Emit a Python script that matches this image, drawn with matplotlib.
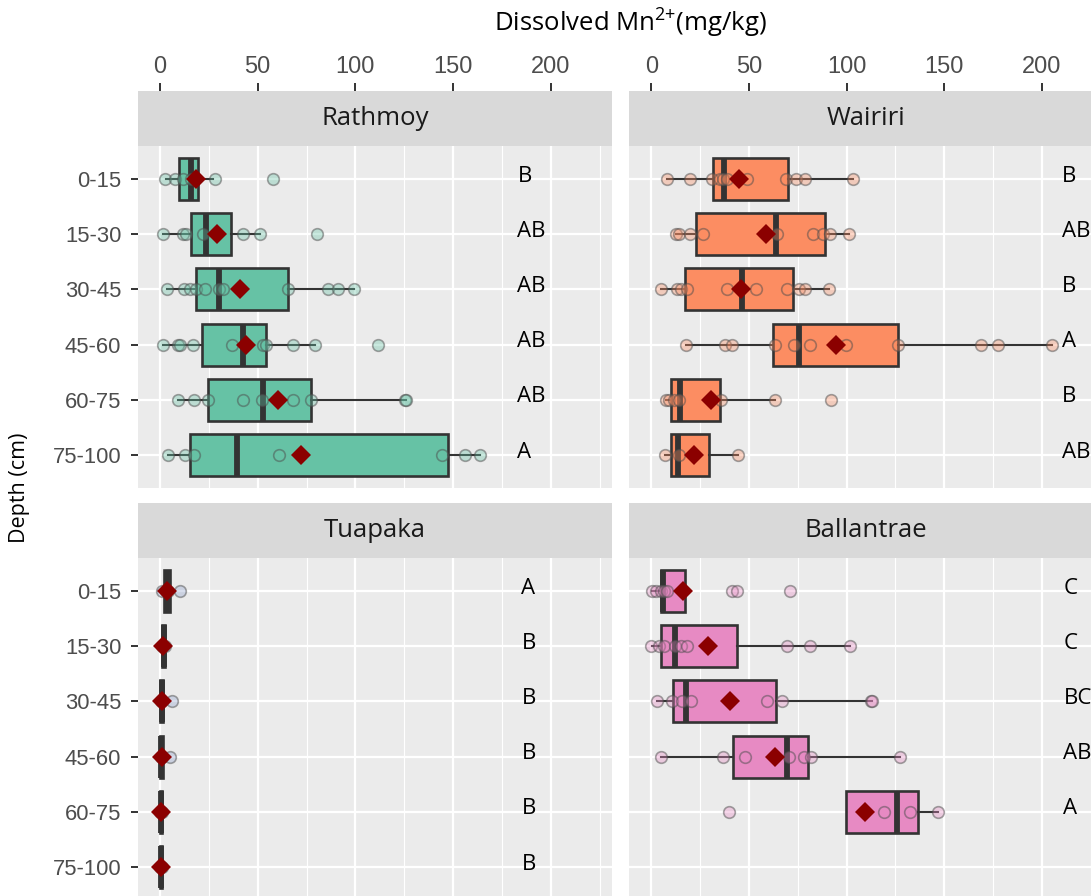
import matplotlib
matplotlib.use("Agg")
import matplotlib.pyplot as plt
from matplotlib.colors import to_rgba

plt.rcParams["mathtext.fontset"] = "custom"
plt.rcParams["mathtext.rm"] = "Open Sans"
plt.rcParams["mathtext.it"] = "Open Sans"

LABEL_FONT = ["Open Sans", "DejaVu Sans"]
TICK_FONT = ["Liberation Sans", "DejaVu Sans"]

depths = ["0-15", "15-30", "30-45", "45-60", "60-75", "75-100"]
sites = ["Rathmoy", "Wairiri", "Tuapaka", "Ballantrae"]
site_colors = ["#66C2A5", "#FC8D62", "#8DA0CB", "#E78AC3"]

# Box summaries per depth: (lower whisker, Q1, median, Q3, upper whisker)
rathmoy_box = [(3.1, 9.9, 15.9, 19.6, 27.3),
               (1.7, 15.9, 23.7, 36.4, 51.2),
               (3.4, 18.3, 30.2, 65.7, 99.5),
               (1.7, 21.3, 42.7, 54.1, 79.4),
               (9.4, 24.7, 52.9, 77.1, 126.0),
               (4.3, 15.4, 39.6, 147.6, 163.9)]
wairiri_box = [(7.8, 31.5, 37.1, 69.8, 103.1),
               (12.4, 23.0, 63.9, 89.1, 101.0),
               (4.8, 17.0, 46.5, 72.6, 91.2),
               (17.9, 62.4, 75.8, 126.3, 205.3),
               (7.3, 10.2, 14.5, 35.1, 63.5),
               (6.8, 10.2, 13.8, 29.4, 44.3)]
tuapaka_box = [(1.0, 2.2, 3.7, 5.3, 5.8),
               (0.5, 0.9, 1.8, 2.7, 3.0),
               (0.1, 0.2, 0.8, 1.5, 1.7),
               (0.1, 0.1, 0.6, 1.3, 1.5),
               (0.0, 0.0, 0.4, 1.0, 1.2),
               (0.0, 0.0, 0.4, 1.0, 1.2)]
ballantrae_box = [(0.5, 4.8, 6.0, 17.0, 17.0),
                  (0.3, 4.8, 11.9, 44.0, 101.5),
                  (2.7, 11.0, 17.5, 63.7, 113.0),
                  (4.8, 41.7, 69.5, 80.1, 127.1),
                  (99.7, 99.7, 125.8, 136.3, 147.0),
                  None]

# Mean of each depth group
rathmoy_mean = [18.3, 29.3, 41.0, 44.0, 60.6, 72.0]
wairiri_mean = [45.1, 58.9, 45.7, 94.7, 30.3, 21.8]
tuapaka_mean = [3.4, 1.7, 1.1, 0.75, 0.6, 0.6]
ballantrae_mean = [16.2, 29.1, 40.2, 63.5, 109.6, None]

# Individual samples per depth
rathmoy_points = [[2.6, 7.7, 11.9, 15.9, 28.2, 58.0],
                  [1.7, 11.6, 13.3, 21.8, 42.3, 51.2, 80.2],
                  [3.4, 12.3, 15.4, 18.3, 23.0, 30.1, 32.4, 65.7, 86.2, 91.3, 99.5],
                  [1.7, 9.2, 10.2, 17.1, 36.7, 52.9, 54.1, 68.3, 79.4, 111.8],
                  [9.4, 17.6, 24.7, 42.7, 52.1, 68.3, 77.1, 125.5, 126.0],
                  [4.3, 12.8, 17.4, 60.9, 144.6, 156.2, 163.9]]
wairiri_points = [[7.8, 19.6, 31.3, 35.1, 36.5, 38.9, 49.1, 69.0, 74.1, 78.5, 103.1],
                  [12.4, 14.1, 19.6, 26.6, 64.5, 82.8, 87.7, 91.7, 101.0],
                  [4.8, 13.3, 15.0, 18.0, 38.9, 53.8, 69.5, 75.5, 78.5, 91.2],
                  [17.9, 37.6, 41.1, 63.3, 72.9, 81.1, 99.8, 126.3, 168.7, 177.7, 205.3],
                  [7.3, 9.0, 11.5, 14.0, 35.4, 63.5, 92.0],
                  [6.8, 14.0, 44.3]]
tuapaka_points = [[1.0, 3.0, 4.0, 10.2],
                  [0.8, 1.5, 2.6],
                  [0.4, 1.0, 6.0],
                  [0.3, 0.8, 5.1],
                  [0.2, 0.6, 1.0],
                  [0.2, 0.6, 1.0]]
ballantrae_points = [[0.5, 2.2, 4.8, 6.3, 8.2, 41.4, 44.0, 71.2],
                     [0.0, 3.7, 6.3, 11.9, 15.0, 18.4, 69.2, 81.4, 101.5],
                     [2.7, 10.6, 15.7, 20.4, 59.3, 67.0, 112.5, 113.0],
                     [4.8, 36.6, 47.7, 70.3, 78.0, 81.8, 127.1],
                     [39.7, 118.9, 132.2, 147.0],
                     []]

rathmoy_letters = ["B", "AB", "AB", "AB", "AB", "A"]
wairiri_letters = ["B", "AB", "B", "A", "B", "AB"]
tuapaka_letters = ["A", "B", "B", "B", "B", "B"]
ballantrae_letters = ["C", "C", "BC", "AB", "A", ""]

site_boxes = [rathmoy_box, wairiri_box, tuapaka_box, ballantrae_box]
site_means = [rathmoy_mean, wairiri_mean, tuapaka_mean, ballantrae_mean]
site_points = [rathmoy_points, wairiri_points, tuapaka_points, ballantrae_points]
site_letters = [rathmoy_letters, wairiri_letters, tuapaka_letters, ballantrae_letters]
letter_x = [183, 210, 185, 211]

x_ticks = [0, 50, 100, 150, 200]
x_minor = [25, 75, 125, 175, 225]
x_range = (-11.3, 231.4)

W, H = 1091, 896
fig = plt.figure(figsize=(W / 100, H / 100), dpi=100)
fig.patch.set_facecolor("white")

panel_w = 474
col_left = [138, 629.3]
row_top = [146, 558]
strip_top = [91, 503]
panel_h = 342
strip_h = 55

DARK = "#333333"

for k, site in enumerate(sites):
    r, c = divmod(k, 2)
    x0 = col_left[c]
    ax = fig.add_axes([x0 / W, 1 - (row_top[r] + panel_h) / H, panel_w / W, panel_h / H])
    ax.set_facecolor("#EBEBEB")
    for s in ax.spines.values():
        s.set_visible(False)

    ax.set_xlim(*x_range)
    ax.set_ylim(len(depths) - 1 + 0.6, -0.6)
    ax.set_xticks(x_ticks)
    ax.set_xticks(x_minor, minor=True)
    ax.set_yticks(range(len(depths)))
    ax.grid(which="major", axis="both", color="white", linewidth=1.6, zorder=0)
    ax.grid(which="minor", axis="x", color="white", linewidth=0.8, zorder=0)
    ax.set_axisbelow(True)
    ax.tick_params(axis="x", which="both", length=0, labelbottom=False, labeltop=False)
    ax.tick_params(which="minor", length=0)

    color = site_colors[k]
    stats, pos = [], []
    for i, b in enumerate(site_boxes[k]):
        if b is None:
            continue
        lo, q1, med, q3, hi = b
        stats.append(dict(whislo=lo, q1=q1, med=med, q3=q3, whishi=hi, fliers=[]))
        pos.append(i)
    ax.bxp(stats, positions=pos, widths=0.76, orientation="horizontal",
           patch_artist=True, showcaps=False, showfliers=False,
           boxprops=dict(facecolor=color, edgecolor=DARK, linewidth=1.9),
           medianprops=dict(color=DARK, linewidth=4.2, solid_capstyle="butt"),
           whiskerprops=dict(color=DARK, linewidth=1.5),
           manage_ticks=False)

    face = to_rgba(color, 0.35)
    edge = (0.3, 0.3, 0.3, 0.5)
    for i, pts in enumerate(site_points[k]):
        if not pts:
            continue
        ax.scatter(pts, [i] * len(pts), s=70, facecolor=face, edgecolor=edge,
                   linewidth=1.2, zorder=4)

    for i, m in enumerate(site_means[k]):
        if m is None:
            continue
        ax.plot([m], [i], marker="D", markersize=10.5, color="#8B0000",
                markeredgewidth=0, linestyle="none", zorder=5)

    for i, lab in enumerate(site_letters[k]):
        if lab:
            ax.text(letter_x[k], i - 0.05, lab, ha="left", va="center", fontsize=16,
                    family=LABEL_FONT, color="black", zorder=6)

    if c == 0:
        ax.set_yticklabels(depths)
        ax.tick_params(axis="y", length=5, width=1.4, color=DARK,
                       labelsize=15.8, labelcolor="#4D4D4D", pad=7)
        for t in ax.get_yticklabels():
            t.set_family(TICK_FONT)
    else:
        ax.tick_params(axis="y", length=0, labelleft=False)

    # facet strip; the top row also carries the x axis above it
    sax = fig.add_axes([x0 / W, 1 - (strip_top[r] + strip_h) / H, panel_w / W, strip_h / H])
    sax.set_facecolor("#D9D9D9")
    sax.set_xlim(*x_range)
    sax.set_yticks([])
    for s in sax.spines.values():
        s.set_visible(False)
    if r == 0:
        sax.set_xticks(x_ticks)
        sax.xaxis.tick_top()
        sax.tick_params(axis="x", length=5.5, width=1.4, color=DARK,
                        labelsize=17, labelcolor="#4D4D4D", pad=4)
        for t in sax.get_xticklabels():
            t.set_family(TICK_FONT)
    else:
        sax.set_xticks([])
    sax.text(0.5, 0.5, site, ha="center", va="center", fontsize=18.5,
             family=LABEL_FONT, color="#1A1A1A", transform=sax.transAxes)

fig.text(631 / W, 1 - 23 / H, r"Dissolved Mn$^{\text{2+}}$(mg/kg)", ha="center",
         va="center", fontsize=18.5, family=LABEL_FONT, color="black")
fig.text(20 / W, 1 - 488 / H, "Depth (cm)", rotation=90, ha="center", va="center",
         fontsize=15.5, family=LABEL_FONT, color="black")

fig.savefig("out.png", dpi=100, facecolor="white")
